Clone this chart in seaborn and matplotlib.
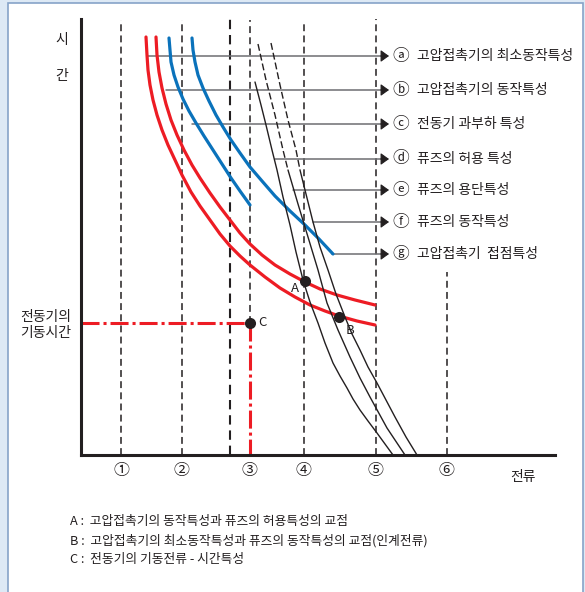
import matplotlib
matplotlib.use("Agg")
import matplotlib.pyplot as plt
import pandas as pd
import seaborn as sns

sns.set_style("white")
plt.rcParams['font.family'] = ['Noto Sans CJK KR', 'DejaVu Sans']

# curves: current (x) and time (y), origin at the axis corner
red_a_current = [65, 66, 67, 69, 72, 76, 81, 87, 94, 101, 110, 119, 129, 139, 149, 159, 169,
                 184, 199, 214, 229, 244, 258, 276, 294]
red_a_time = [418, 400, 385, 370, 355, 340, 325, 310, 295, 280, 263, 249, 235, 221, 209, 199, 190,
              178, 167, 158, 150, 144, 139, 134, 130]
red_b_current = [75, 76, 78, 81, 85, 90, 96, 103, 111, 119, 129, 139, 149, 159, 169, 181, 194,
                 209, 224, 239, 256, 274, 294]
red_b_time = [418, 400, 383, 367, 351, 335, 320, 305, 290, 277, 262, 248, 235, 222, 211, 200, 190,
              181, 173, 166, 160, 155, 150]
blue_c_current = [88, 89, 90, 93, 97, 102, 108, 115, 123, 132, 141, 150, 159, 169]
blue_c_time = [417, 405, 393, 380, 368, 356, 344, 332, 319, 305, 291, 277, 264, 250]
blue_g_current = [111, 112, 114, 117, 122, 128, 135, 142, 150, 159, 169, 181, 194, 209, 224, 238, 252]
blue_g_time = [417, 405, 393, 380, 367, 354, 340, 328, 315, 302, 288, 274, 259, 244, 230, 216, 201]
fuse_d_current = [174, 180, 185, 191, 196, 202, 209, 215, 222, 229, 237, 244, 252, 259, 266, 272,
                  279, 287, 296, 304, 312]
fuse_d_time = [373, 350, 330, 305, 285, 258, 230, 203, 175, 153, 132, 112, 92, 79, 67, 56,
               45, 34, 22, 11, 0]
fuse_e_current = [177, 185, 194, 202, 207, 217, 227, 237, 246, 257, 269, 279, 289, 306, 324]
fuse_e_time = [411, 375, 340, 305, 285, 251, 218, 185, 152, 125, 98, 77, 58, 27, 0]
fuse_f_current = [190, 199, 207, 215, 219, 232, 239, 247, 255, 264, 271, 279, 287, 296, 305, 314, 325, 336]
fuse_f_time = [412, 370, 335, 305, 285, 233, 208, 185, 161, 138, 121, 105, 88, 72, 55, 38, 18, 0]
dash_until = 4  # e and f are dashed down to this point

# reference lines
grid_current = [40, 101, 149, 169, 223, 295, 366]
grid_top = [435, 435, 438, 435, 433, 437, 183]
grid_bottom = [0, 0, 0, 132, 0, 0, 0]
tick_labels = ['①', '②', '③', '④', '⑤', '⑥']
tick_current = [40, 101, 169, 223, 295, 366]

# marked points
point_names = ['A', 'B', 'C']
point_current = [224, 258, 169]
point_time = [174, 138, 132]
start_current = 169
start_time = 132

# call-out arrows
arrow_letters = ['ⓐ', 'ⓑ', 'ⓒ', 'ⓓ', 'ⓔ', 'ⓕ', 'ⓖ']
arrow_texts = ['고압접촉기의 최소동작특성', '고압접촉기의 동작특성', '전동기 과부하 특성',
               '퓨즈의 허용 특성', '퓨즈의 용단특성', '퓨즈의 동작특성', '고압접촉기  접점특성']
arrow_start = [67, 85, 111, 194, 212, 232, 251]
arrow_time = [399, 365, 331, 296, 265, 233, 201]

notes = ['A :  고압접촉기의 동작특성과 퓨즈의 허용특성의 교점',
         'B :  고압접촉기의 최소동작특성과 퓨즈의 동작특성의 교점(인계전류)',
         'C :  전동기의 기동전류 - 시간특성']

RED = '#ed1c24'
BLUE = '#0a72bb'
INK = '#231f20'

fig = plt.figure(figsize=(5.85, 5.92), dpi=100)
fig.patch.set_facecolor('#dde9f5')
fig.add_artist(plt.Rectangle((8 / 585, -0.01), 575 / 585, 1 - 3 / 592 + 0.01,
                             transform=fig.transFigure, facecolor='white',
                             edgecolor='#86a3c8', lw=1.2, zorder=-1))
ax = fig.add_axes([81 / 585, (592 - 455) / 592, (555 - 81) / 585, (455 - 19) / 592])
ax.set_facecolor('none')

# dashed guide lines
for i in range(len(grid_current)):
    ax.vlines(grid_current[i], grid_bottom[i], grid_top[i], color=INK,
              lw=1.5 if i == 2 else 1.1, linestyles=(0, (4.5, 2.8)), zorder=1)

# motor starting point lines
ax.plot([0, start_current], [start_time, start_time], color=RED, lw=2.2,
        dashes=(5.9, 1.3, 1.0, 1.3), zorder=2)
ax.plot([start_current, start_current], [start_time, 0], color=RED, lw=2.2,
        dashes=(5.9, 1.3, 1.0, 1.3), zorder=2)

curves = pd.concat([
    pd.DataFrame({'current': red_a_current, 'time': red_a_time, 'curve': 'a'}),
    pd.DataFrame({'current': red_b_current, 'time': red_b_time, 'curve': 'b'}),
    pd.DataFrame({'current': blue_c_current, 'time': blue_c_time, 'curve': 'c'}),
    pd.DataFrame({'current': blue_g_current, 'time': blue_g_time, 'curve': 'g'}),
    pd.DataFrame({'current': fuse_d_current, 'time': fuse_d_time, 'curve': 'd'}),
    pd.DataFrame({'current': fuse_e_current[dash_until:], 'time': fuse_e_time[dash_until:], 'curve': 'e'}),
    pd.DataFrame({'current': fuse_f_current[dash_until:], 'time': fuse_f_time[dash_until:], 'curve': 'f'}),
    pd.DataFrame({'current': fuse_e_current[:dash_until + 1], 'time': fuse_e_time[:dash_until + 1], 'curve': 'e_top'}),
    pd.DataFrame({'current': fuse_f_current[:dash_until + 1], 'time': fuse_f_time[:dash_until + 1], 'curve': 'f_top'}),
])

styles = {'a': (RED, 2.3), 'b': (RED, 2.3), 'c': (BLUE, 2.3), 'g': (BLUE, 2.3),
          'd': (INK, 1.0), 'e': (INK, 1.0), 'f': (INK, 1.0),
          'e_top': (INK, 1.0), 'f_top': (INK, 1.0)}
for name, (color, lw) in styles.items():
    sns.lineplot(data=curves[curves['curve'] == name], x='current', y='time',
                 sort=False, estimator=None, color=color, lw=lw, ax=ax, zorder=3)
    ax.lines[-1].set_solid_joinstyle('round')
    if name.endswith('_top'):
        ax.lines[-1].set_dashes((5, 2.2))

# arrows with their labels
for i in range(len(arrow_letters)):
    ax.plot([arrow_start[i], 302], [arrow_time[i], arrow_time[i]], color='#6d6e71', lw=1.1, zorder=2)
    ax.annotate('', xy=(308, arrow_time[i]), xytext=(300, arrow_time[i]),
                arrowprops=dict(arrowstyle='-|>,head_length=0.5,head_width=0.36',
                                color=INK, lw=0.8, shrinkA=0, shrinkB=0))
    ax.text(320, arrow_time[i], arrow_letters[i], ha='center', va='center',
            fontsize=12, color=INK)
    ax.text(336, arrow_time[i], arrow_texts[i], ha='left', va='center',
            fontsize=10, color=INK)

# marked points
sns.scatterplot(x=point_current, y=point_time, color=INK, s=64, ax=ax, zorder=5,
                edgecolor=INK, linewidth=0)
ax.text(214, 167, point_names[0], ha='center', va='center', fontsize=9.5, color=INK)
ax.text(269, 125, point_names[1], ha='center', va='center', fontsize=9.5, color=INK)
ax.text(177, 132, point_names[2], ha='left', va='center', fontsize=9.5, color=INK)

ax.set_xlim(0, 474)
ax.set_ylim(0, 436)
sns.despine(ax=ax)
for side in ['left', 'bottom']:
    ax.spines[side].set_linewidth(2.2)
    ax.spines[side].set_color(INK)
ax.set_xlabel('')
ax.set_ylabel('')
ax.set_xticks(tick_current, tick_labels)
ax.set_yticks([start_time], ['전동기의\n기동시간'])
ax.tick_params(axis='x', length=0, pad=5, labelsize=11.5, colors=INK)
ax.tick_params(axis='y', length=0, pad=7, labelsize=10, colors=INK)
for lbl in ax.get_yticklabels():
    lbl.set_multialignment('center')
    lbl.set_linespacing(1.15)

ax.text(-19, 415, '시', ha='center', va='center', fontsize=10, color=INK, clip_on=False)
ax.text(-19, 379, '간', ha='center', va='center', fontsize=10, color=INK, clip_on=False)
ax.text(442, -22, '전류', ha='center', va='center', fontsize=10, color=INK, clip_on=False)

for i, note in enumerate(notes):
    fig.text(70 / 585, 1 - (522 + 19 * i) / 592, note, ha='left', va='center',
             fontsize=9.2, color=INK)

fig.savefig('out.png', dpi=100)
